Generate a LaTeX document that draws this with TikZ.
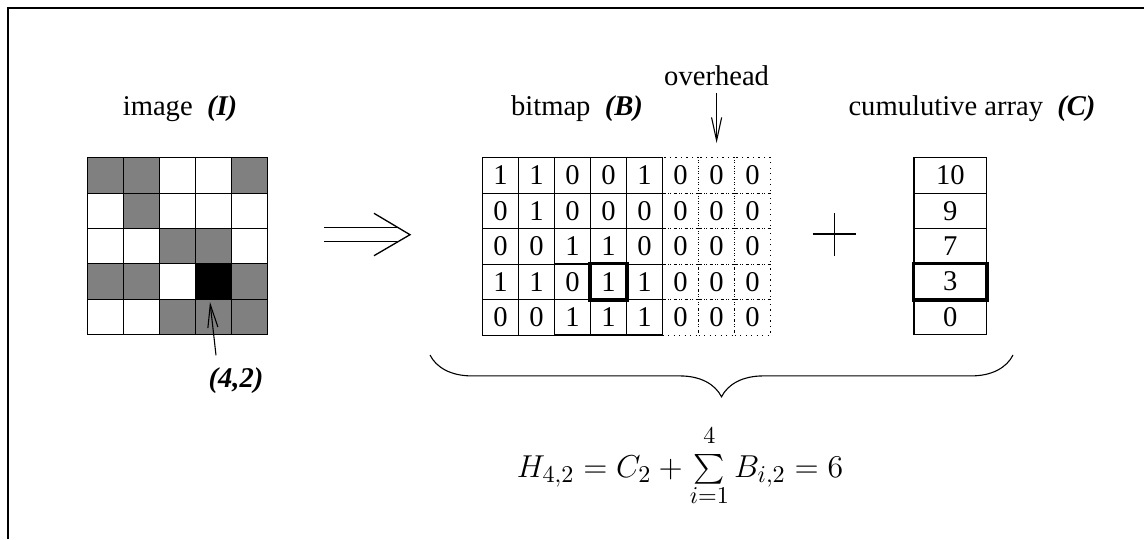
\documentclass[tikz,border=0pt]{standalone}
\usepackage{fontspec}
\setmainfont{Liberation Serif}
\usetikzlibrary{matrix, positioning, calc, arrows.meta, decorations.pathreplacing}

\begin{document}
\begin{tikzpicture}[
    x=0.4545pt, y=-0.4545pt,
    font=\fontsize{13}{15}\selectfont,
    cell/.style={draw, line width=0.5pt, minimum width=16.36pt,
                 minimum height=16.1pt, inner sep=0pt},
    pixgrid/.style={matrix of nodes, nodes in empty cells, nodes={cell},
                    column sep=-0.5pt, row sep=-0.5pt, anchor=north west},
    dk/.style={fill=gray},
    blk/.style={fill=black},
    hilite/.style={line width=1.6pt},
    pointer/.style={-{Straight Barb[length=10.5pt,width=4.6pt]}, line width=0.5pt},
    thin line/.style={line width=0.6pt},
  ]
  \useasboundingbox (0,0) rectangle (1144,539);
  \draw[line width=0.8pt] (8,539) -- (8,8) -- (1144,8);

  % image
  \matrix (img) [pixgrid] at (79,149.3) {
    |[dk]| & |[dk]| &        &         & |[dk]| \\
           & |[dk]| &        &         &        \\
           &        & |[dk]| & |[dk]|  &        \\
    |[dk]| & |[dk]| &        & |[blk]| & |[dk]| \\
           &        & |[dk]| & |[dk]|  & |[dk]| \\
  };
  \node[anchor=base] (imglbl) at (180,115) {image~~\textbf{\textit{(I)}}};
  \node (pos) at (236,381) {\textbf{\textit{(4,2)}}};
  \draw[pointer] ($(pos.north)+(-20,-5)$) -- ([xshift=-1.5pt,yshift=-1pt]img-4-4.south);

  % implies arrow
  \coordinate (impS) at (324,234.7);
  \coordinate (impE) at (410,234.7);
  \draw[thin line] ($(impS)+(0,-7)$) -- ($(impE)+(-13,-7)$)
                   ($(impS)+(0,7)$) -- ($(impE)+(-13,7)$);
  \draw[thin line] ($(impE)+(-36,-21.4)$) -- (impE) -- ($(impE)+(-36,21)$);

  % bitmap
  \matrix (bmp) [pixgrid, column 6/.style={nodes={dotted}},
                 column 7/.style={nodes={dotted}},
                 column 8/.style={nodes={dotted}}] at (474.3,149.3) {
    1 & 1 & 0 & 0 & 1 & 0 & 0 & 0 \\
    0 & 1 & 0 & 0 & 0 & 0 & 0 & 0 \\
    0 & 0 & 1 & 1 & 0 & 0 & 0 & 0 \\
    1 & 1 & 0 & 1 & 1 & 0 & 0 & 0 \\
    0 & 0 & 1 & 1 & 1 & 0 & 0 & 0 \\
  };
  \draw[hilite] (bmp-4-4.north west) rectangle (bmp-4-4.south east);
  \node[anchor=base] (bmplbl) at (577,115) {bitmap~~\textbf{\textit{(B)}}};
  \node[above=29pt of bmp-1-7] (ovh) {overhead};
  \draw[pointer] (ovh.south) -- ([yshift=6.4pt]bmp-1-7.north);

  % plus
  \draw[thin line] (812.7,234) -- (856,234) (834.3,213) -- (834.3,256);

  % cumulative array
  \matrix (cum) [pixgrid, nodes={minimum width=33pt}] at (905.7,149.3) {
    10 \\ 9 \\ 7 \\ 3 \\ 0 \\
  };
  \draw[hilite] (cum-4-1.north west) rectangle (cum-4-1.south east);
  \node[anchor=base] (cumlbl) at (972,115) {cumulutive array~~\textbf{\textit{(C)}}};

  % brace and formula
  \draw[decorate, decoration={brace, amplitude=19pt}, line width=0.5pt]
    (1013,355) -- (430,355);
  \node (hform) at (680,466) {\fontsize{15}{18}\selectfont
    $H_{4,2} = C_2 + \mathop{\vcenter{\hbox{\scalebox{1.35}{$\sum$}}}}\limits_{i=1}^{\raisebox{3pt}{$\scriptstyle 4$}} B_{i,2} = 6$};
\end{tikzpicture}
\end{document}
